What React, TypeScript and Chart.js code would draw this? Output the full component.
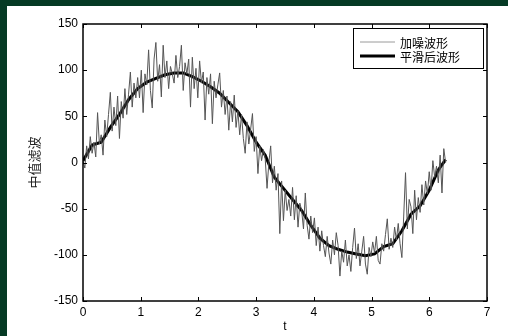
import React, { useEffect, useRef } from 'react';
import { Chart, registerables } from 'chart.js';

Chart.register(...registerables);

// ---------- data ----------
const T_END = 6.283;
const SERIES_NAMES = ['加噪波形', '平滑后波形'];
const X_TITLE = 't';
const Y_TITLE = '中值滤波';
const X_TICKS = [0, 1, 2, 3, 4, 5, 6, 7];
const Y_TICKS = [-150, -100, -50, 0, 50, 100, 150];

// noisy waveform, 200 samples evenly spaced on [0, T_END]
const NOISY: number[] = [
  2, -6, 18, 4, 28, 10, 22, 6, 54, 20,
  30, 8, 46, 28, 52, 76, 34, 60, 40, 72,
  26, 66, 48, 80, 52, 74, 98, 60, 86, 70,
  92, 70, 100, 54, 96, 84, 122, 78, 59, 112,
  130, 88, 106, 71, 127, 92, 110, 80, 104, 96,
  86, 116, 92, 104, 127, 78, 108, 96, 112, 60,
  114, 80, 102, 70, 110, 86, 98, 46, 92, 74,
  96, 42, 88, 70, 84, 97, 60, 78, 52, 72,
  35, 66, 44, 73, 38, 56, 30, 52, 26, 10,
  44, 20, 36, 53, 12, 28, -12, 18, 2, 14,
  4, -28, 0, 18, -22, -4, -30, -12, -77, -20,
  -63, -30, -52, -40, -58, -27, -62, -36, -70, -44,
  -52, -72, -33, -68, -83, -58, -76, -60, -90, -70,
  -96, -74, -90, -102, -80, -98, -110, -84, -100, -76,
  -90, -123, -96, -108, -84, -112, -100, -118, -92, -71,
  -104, -88, -112, -96, -80, -110, -121, -92, -102, -86,
  -98, -80, -106, -110, -88, -96, -78, -61, -94, -82,
  -92, -70, -84, -66, -88, -103, -58, -11, -72, -40,
  -48, -77, -30, -62, -38, -54, -24, -46, -20, -34,
  -10, -30, 2, -16, -4, -22, 8, -33, 15, 0,
];

// median-smoothed waveform, one value every 5 noisy samples (+ final sample)
const SMOOTH: number[] = [
  2, 19, 22, 38, 52, 68, 80, 87, 91, 95,
  97, 97, 93, 88, 82, 75, 65, 55, 40, 22,
  8, -16, -28, -40, -52, -68, -82, -90, -94, -97,
  -99, -101, -99, -91, -88, -74, -56, -47, -30, -8,
  3,
];

const W = 508;
const H = 336;
const AREA = { left: 83, top: 24, right: 487, bottom: 301 };

const framePlugin = {
  id: 'matlabFrame',
  beforeDraw(chart: any) {
    const { ctx } = chart;
    ctx.save();
    ctx.fillStyle = '#053a24';
    ctx.fillRect(0, 0, W, H);
    ctx.fillStyle = '#ffffff';
    ctx.fillRect(7, 6, W - 7, H - 6);
    ctx.restore();
  },
  afterDatasetsDraw(chart: any) {
    const { ctx, chartArea: a, scales } = chart;
    ctx.save();
    ctx.strokeStyle = '#000';
    ctx.lineWidth = 1.5;
    ctx.strokeRect(a.left, a.top, a.right - a.left, a.bottom - a.top);
    ctx.lineWidth = 1;
    const tl = 4;
    ctx.beginPath();
    X_TICKS.forEach((v) => {
      const x = Math.round(scales.x.getPixelForValue(v)) + 0.5;
      ctx.moveTo(x, a.bottom);
      ctx.lineTo(x, a.bottom - tl);
      ctx.moveTo(x, a.top);
      ctx.lineTo(x, a.top + tl);
    });
    Y_TICKS.forEach((v) => {
      const y = Math.round(scales.y.getPixelForValue(v)) + 0.5;
      ctx.moveTo(a.left, y);
      ctx.lineTo(a.left + tl, y);
      ctx.moveTo(a.right, y);
      ctx.lineTo(a.right - tl, y);
    });
    ctx.stroke();

    // legend
    const bx = a.right - 134;
    const by = a.top + 4;
    const bw = 130;
    const bh = 40;
    ctx.fillStyle = '#fff';
    ctx.fillRect(bx, by, bw, bh);
    ctx.strokeStyle = '#000';
    ctx.lineWidth = 1;
    ctx.strokeRect(bx + 0.5, by + 0.5, bw, bh);
    const ds = chart.data.datasets;
    const rows = [by + 14, by + 28];
    ds.forEach((d: any, i: number) => {
      ctx.strokeStyle = i === 0 ? '#9a9a9a' : d.borderColor;
      ctx.lineWidth = d.borderWidth;
      ctx.beginPath();
      ctx.moveTo(bx + 7, rows[i]);
      ctx.lineTo(bx + 42, rows[i]);
      ctx.stroke();
      ctx.fillStyle = '#000';
      ctx.font = '12px "Noto Sans CJK SC"';
      ctx.textBaseline = 'middle';
      ctx.textAlign = 'left';
      ctx.fillText(d.label, bx + 47, rows[i] + 1);
    });
    ctx.restore();
  },
};

export default function App() {
  const ref = useRef<HTMLCanvasElement | null>(null);

  useEffect(() => {
    document.body.style.margin = '0';
    const step = T_END / (NOISY.length - 1);
    const noisyPts = NOISY.map((v, i) => ({ x: i * step, y: v }));
    const smoothPts = SMOOTH.map((v, k) => ({
      x: Math.min(k * 5, NOISY.length - 1) * step,
      y: v,
    }));
    const tickFont = { family: '"Liberation Sans", Arial, sans-serif', size: 12 };
    const chart = new Chart(ref.current as HTMLCanvasElement, {
      type: 'line',
      data: {
        datasets: [
          {
            label: SERIES_NAMES[0],
            data: noisyPts,
            borderColor: '#555555',
            borderWidth: 1,
            pointRadius: 0,
            tension: 0,
          },
          {
            label: SERIES_NAMES[1],
            data: smoothPts,
            borderColor: '#000000',
            borderWidth: 3,
            pointRadius: 0,
            tension: 0,
          },
        ],
      },
      options: {
        responsive: false,
        animation: false,
        devicePixelRatio: 1,
        layout: { padding: { left: 0, top: AREA.top, right: W - AREA.right, bottom: 0 } },
        plugins: { legend: { display: false }, tooltip: { enabled: false } },
        scales: {
          x: {
            type: 'linear',
            min: 0,
            max: 7,
            afterBuildTicks: (s: any) => {
              s.ticks = X_TICKS.map((v) => ({ value: v }));
            },
            afterFit: (s: any) => {
              s.height = H - AREA.bottom;
            },
            grid: { display: false, drawTicks: false },
            border: { display: false },
            ticks: { color: '#000', font: tickFont, padding: 4, maxRotation: 0 },
            title: {
              display: true,
              text: X_TITLE,
              color: '#000',
              font: tickFont,
              padding: { top: 0, bottom: 2 },
            },
          },
          y: {
            type: 'linear',
            min: -150,
            max: 150,
            afterBuildTicks: (s: any) => {
              s.ticks = Y_TICKS.map((v) => ({ value: v }));
            },
            afterFit: (s: any) => {
              s.width = AREA.left;
            },
            grid: { display: false, drawTicks: false },
            border: { display: false },
            ticks: { color: '#000', font: tickFont, padding: 5 },
            title: {
              display: true,
              text: Y_TITLE,
              color: '#222',
              font: { family: '"Noto Sans CJK SC"', size: 13 },
              padding: { top: 26, bottom: 0 },
            },
          },
        },
      },
      plugins: [framePlugin],
    } as any);
    return () => chart.destroy();
  }, []);

  return (
    <div style={{ width: W, height: H }}>
      <canvas ref={ref} width={W} height={H} style={{ display: 'block' }} />
    </div>
  );
}
